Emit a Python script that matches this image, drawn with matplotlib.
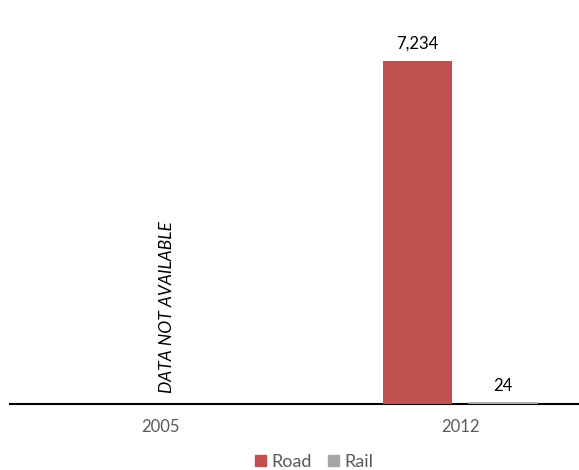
import matplotlib
matplotlib.use("Agg")
import matplotlib.pyplot as plt
from matplotlib.patches import Patch

categories = ["2005", "2012"]
road = [None, 7234]
rail = [None, 24]
road_labels = ["", "7,234"]
rail_labels = ["", "24"]
note = "DATA NOT AVAILABLE"

plt.rcParams['font.family'] = ['Lato', 'DejaVu Sans']

W, H = 579, 470
fig = plt.figure(figsize=(W/100, H/100), dpi=100)
ax = fig.add_axes([10/W, (H-404)/H, (578-10)/W, 404/H])

x = list(range(len(categories)))
bw = 0.227
off = 0.142
road_c = "#C0504D"
rail_c = "#A5A5A5"
for i in x:
    if road[i] is not None:
        ax.bar(i - off, road[i], width=bw, color=road_c, zorder=3)
        ax.text(i - off, road[i] + 8520*0.022, road_labels[i], ha="center", va="bottom",
                fontsize=12, color="black")
    if rail[i] is not None:
        ax.bar(i + off, rail[i], width=bw, color=rail_c, edgecolor=rail_c,
               linewidth=1.2, zorder=3)
        ax.text(i + off, rail[i] + 8520*0.022, rail_labels[i], ha="center", va="bottom",
                fontsize=12, color="black")
    if road[i] is None:
        ax.text(i + 0.023, 8520*0.028, note, rotation=90, ha="center", va="bottom",
                fontsize=12.5, style="italic", color="black")

ax.set_xlim(-0.5, 1.393)
ax.set_ylim(0, 8520)
ax.set_xticks(x)
ax.set_xticklabels(categories, fontsize=12, color="#595959")
ax.tick_params(axis="x", length=0, pad=11)
ax.set_yticks([])
for s in ["top", "right", "left"]:
    ax.spines[s].set_visible(False)
ax.spines["bottom"].set_linewidth(1.5)
ax.spines["bottom"].set_color("black")
ax.spines["bottom"].set_zorder(2)

handles = [Patch(color=road_c, label="Road"), Patch(color=rail_c, label="Rail")]
fig.legend(handles=handles, loc="center", bbox_to_anchor=(314/W, 1-462/H), ncol=2,
           frameon=False, fontsize=13, handlelength=0.6, handleheight=0.6,
           handletextpad=0.3, columnspacing=0.9, labelcolor="#595959")

fig.savefig("out.png", dpi=100)
